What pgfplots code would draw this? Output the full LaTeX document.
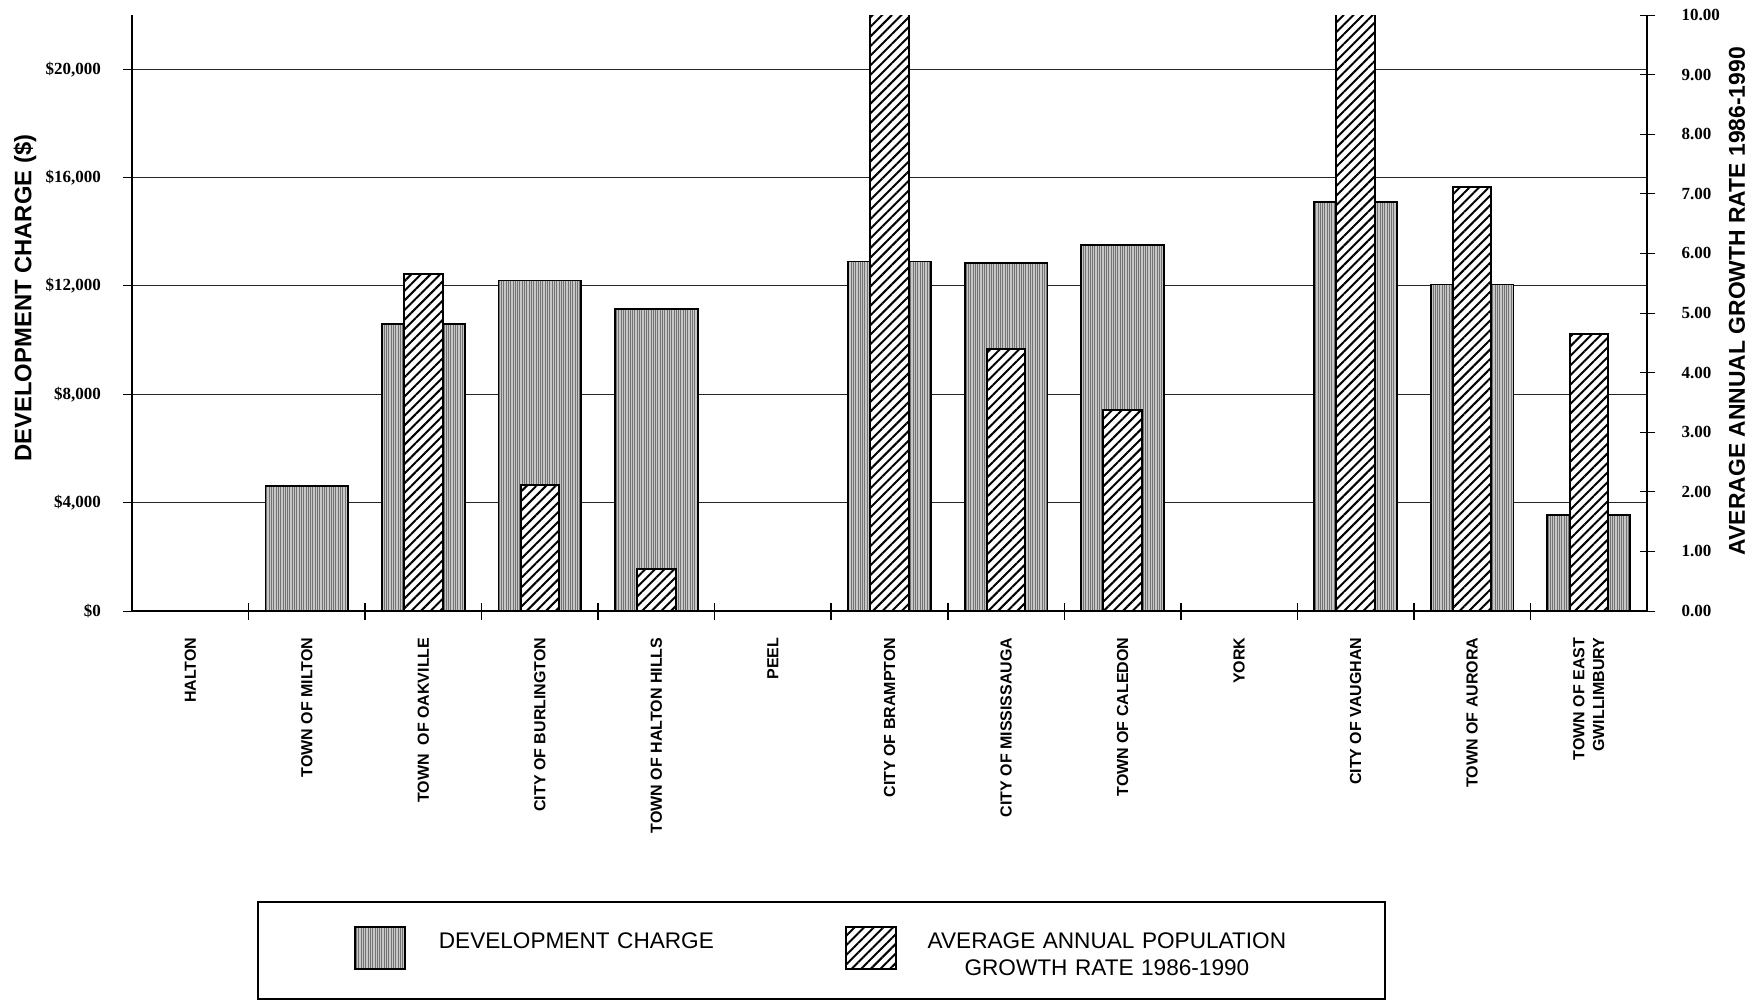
\documentclass[border=0pt]{standalone}
\usepackage{pgfplots}
\pgfplotsset{compat=1.18}
\usetikzlibrary{patterns.meta}
\usepackage{fontspec}
\setmainfont{Liberation Sans}
\newfontfamily\serifnum{Liberation Serif}

% bar fills: stippled grey for the charge, diagonal hatch for the growth rate
\tikzset{
  devbar/.style={preaction={fill=black!22},
    pattern={Lines[angle=90,distance=1.15pt,line width=0.35pt]},
    pattern color=black!55, draw=black, line width=0.9pt},
  growbar/.style={preaction={fill=white},
    pattern={Lines[angle=45,distance=3.4pt,line width=1pt]},
    pattern color=black, draw=black, line width=1pt},
}

\pgfplotsset{
  common/.style={
    at={(0,0)}, anchor=south west,
    scale only axis, width=757.5pt, height=298pt,
    xmin=-0.5, xmax=12.5,
    axis line style={line width=0.9pt, black},
  },
  devlegend/.style={legend image code/.code={
    \draw[##1] (0pt,-13.5pt) rectangle (25pt,7.5pt); \path (41.5pt,0pt) (0pt,-16pt);}},
  growlegend/.style={legend image code/.code={
    \draw[##1] (0pt,-13.5pt) rectangle (25pt,7.5pt); \path (39pt,0pt) (0pt,-16pt);}},
}

\begin{document}
\begin{tikzpicture}
\useasboundingbox (-66pt,-196pt) rectangle (814.5pt,305.5pt);

% development charge, left axis
\begin{axis}[
  common,
  ymin=0, ymax=22000,
  axis x line*=bottom, axis y line*=left,
  ybar, bar width=0.71,
  xtick={0,...,12},
  xticklabels={HALTON, TOWN OF MILTON, TOWN\ \ OF OAKVILLE, CITY OF BURLINGTON,
    TOWN OF HALTON HILLS, PEEL, CITY OF BRAMPTON, CITY OF MISSISSAUGA,
    TOWN OF CALEDON, YORK, CITY OF VAUGHAN, TOWN OF AURORA,
    {TOWN OF EAST\\GWILLIMBURY}},
  xticklabel style={rotate=90, anchor=east, align=right,
    font=\bfseries\fontsize{8pt}{9.8pt}\selectfont},
  xticklabel shift=5.3pt,
  major x tick style={draw=none},
  minor xtick={0.5,1.5,...,11.5},
  minor tick length=8.5pt,
  minor x tick style={black, line width=0.8pt, yshift=4.25pt},
  tick align=outside,
  major tick length=4.5pt,
  ytick={0,4000,8000,12000,16000,20000},
  yticklabels={{\$0},{\$4,000},{\$8,000},{\$12,000},{\$16,000},{\$20,000}},
  yticklabel style={font=\serifnum\bfseries\fontsize{8.5pt}{10pt}\selectfont},
  yticklabel shift=7.5pt,
  ytick style={black, line width=0.5pt},
  ymajorgrids,
  grid style={black!85, line width=0.55pt},
  ylabel={DEVELOPMENT CHARGE (\$)},
  every axis y label/.style={at={(axis description cs:-0.0706,0.525)},
    rotate=90, anchor=center,
    font=\bfseries\fontsize{11.9pt}{14pt}\selectfont},
]
\addplot[devbar] coordinates {
  (1,4600) (2,10600) (3,12200) (4,11150)
  (6,12900) (7,12850) (8,13500)
  (10,15100) (11,12050) (12,3550)
};
\end{axis}

% average annual growth rate, right axis
\begin{axis}[
  common,
  ymin=0, ymax=10,
  axis x line=none, axis y line*=right,
  ybar, bar width=0.33,
  ytick={0,1,2,3,4,5,6,7,8,9,10},
  yticklabels={0.00,1.00,2.00,3.00,4.00,5.00,6.00,7.00,8.00,9.00,10.00},
  yticklabel style={font=\serifnum\bfseries\fontsize{8.5pt}{10pt}\selectfont},
  yticklabel shift=10pt,
  tick align=center, major tick length=7.5pt,
  ytick style={black, line width=0.5pt},
  ylabel={AVERAGE ANNUAL GROWTH RATE 1986-1990},
  every axis y label/.style={at={(axis description cs:1.0594,0.52)},
    rotate=90, anchor=center,
    font=\bfseries\fontsize{11.45pt}{14pt}\selectfont},
  legend columns=2,
  legend style={
    at={(axis description cs:0.0825,-0.4866)}, anchor=north west,
    draw=black, line width=1.1pt,
    inner xsep=48pt, inner ysep=12pt,
    font=\fontsize{11.3pt}{13.3pt}\selectfont,
    nodes={inner sep=0pt},
    /tikz/every even column/.style={column sep=0pt},
    /tikz/every odd column/.style={column sep=0pt},
  },
]
\addlegendimage{devbar, devlegend}
\addlegendentry[text width=203pt, align=left]{DEVELOPMENT CHARGE}
\addplot[growbar, growlegend] coordinates {
  (2,5.65) (3,2.12) (4,0.70)
  (6,11.0) (7,4.40) (8,3.38)
  (10,11.0) (11,7.11) (12,4.64)
};
\addlegendentry[text width=182pt, align=center]{AVERAGE ANNUAL POPULATION\\GROWTH RATE 1986-1990}
\end{axis}
\end{tikzpicture}
\end{document}
